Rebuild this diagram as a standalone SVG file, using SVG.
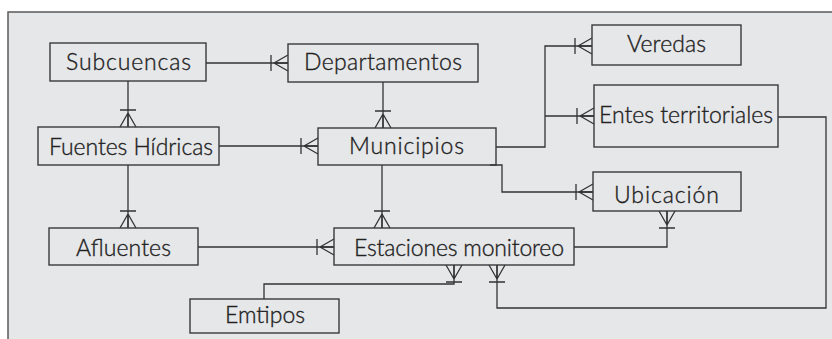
<svg xmlns="http://www.w3.org/2000/svg" width="832" height="339" viewBox="0 0 832 339">
<style>
.frame{fill:#e6e7e9;stroke:#5a5a5a;stroke-width:1.5}
.box{fill:none;stroke:#3a3a3a;stroke-width:1.4}
.lbl{font-family:Lato,"Liberation Sans",sans-serif;font-weight:300;font-size:23px;fill:#222;stroke:#222;stroke-width:0.35;text-anchor:middle}
.ln{fill:none;stroke:#333;stroke-width:1.3;marker-end:url(#many)}
.mk{fill:none;stroke:#333;stroke-width:1.3}
</style>
<defs>
<marker id="many" viewBox="-20 -10 22 20" refX="0" refY="0" markerWidth="22" markerHeight="20" markerUnits="userSpaceOnUse" orient="auto">
<path class="mk" d="M-17,-8 V8 M-14,0 L0,-8 M-14,0 L0,8 M-14,0 H0"/>
</marker>
</defs>
<rect width="832" height="339" fill="#ffffff"/>
<rect class="frame" x="8" y="12" width="840" height="350"/>
<g id="connectors">
<path class="ln" d="M206,63 H288"/>
<path class="ln" d="M128,81 V127"/>
<path class="ln" d="M128,165 V228"/>
<path class="ln" d="M219,146 H318"/>
<path class="ln" d="M383,82 V128"/>
<path class="ln" d="M382,165 V228"/>
<path class="ln" d="M198,247 H334"/>
<path class="ln" d="M496,147 H545 V46 H592"/>
<path class="ln" d="M545,116 H594"/>
<path class="ln" d="M490,165 H502 V192 H593"/>
<path class="ln" d="M574,247 H667 V211"/>
<path class="ln" d="M264,299 V284 H454 V265"/>
<path class="ln" d="M778,117 H826 V308 H497 V265"/>
</g>
<g id="subcuencas"><rect class="box" x="50" y="43" width="156" height="38"/><text class="lbl" x="128.5" y="70" textLength="125">Subcuencas</text></g>
<g id="departamentos"><rect class="box" x="288" y="44" width="190" height="38"/><text class="lbl" x="383" y="70" textLength="158">Departamentos</text></g>
<g id="fuentes-hidricas"><rect class="box" x="38" y="127" width="181" height="38"/><text class="lbl" x="131" y="155" textLength="164">Fuentes Hídricas</text></g>
<g id="municipios"><rect class="box" x="318" y="128" width="178" height="37"/><text class="lbl" x="406.5" y="154" textLength="115">Municipios</text></g>
<g id="afluentes"><rect class="box" x="49" y="228" width="149" height="37"/><text class="lbl" x="123.5" y="256" textLength="95">Afluentes</text></g>
<g id="estaciones-monitoreo"><rect class="box" x="334" y="228" width="240" height="37"/><text class="lbl" x="459" y="256" textLength="210">Estaciones monitoreo</text></g>
<g id="veredas"><rect class="box" x="592" y="25" width="149" height="40"/><text class="lbl" x="666.5" y="52" textLength="79">Veredas</text></g>
<g id="entes-territoriales"><rect class="box" x="594" y="85" width="184" height="62"/><text class="lbl" x="686" y="123" textLength="174">Entes territoriales</text></g>
<g id="ubicacion"><rect class="box" x="593" y="172" width="148" height="39"/><text class="lbl" x="666.5" y="203" textLength="105">Ubicación</text></g>
<g id="emtipos"><rect class="box" x="190" y="299" width="149" height="34"/><text class="lbl" x="265" y="323" textLength="80">Emtipos</text></g>
</svg>
